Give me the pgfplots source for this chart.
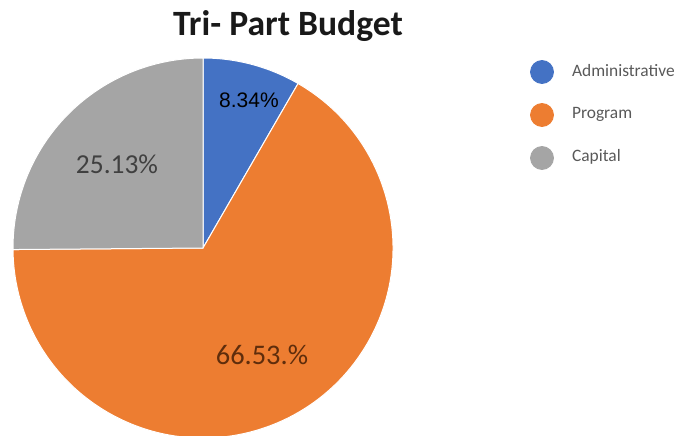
\documentclass[border=0pt]{standalone}
\usepackage{pgfplots}
\pgfplotsset{compat=1.18}
\usepackage{fontspec}
\setmainfont{Carlito}
\newfontfamily\arialfont{Liberation Sans}

\definecolor{cAdm}{HTML}{4472C4}
\definecolor{cPrg}{HTML}{ED7D31}
\definecolor{cCap}{HTML}{A5A5A5}
\definecolor{legtext}{HTML}{595959}

% shares in percent
\def\vAdm{8.34}
\def\vPrg{66.53}
\def\vCap{25.13}

\begin{document}
\begin{tikzpicture}
% angles, clockwise from the top
\pgfmathsetmacro\aA{90}
\pgfmathsetmacro\aB{90-3.6*\vAdm}
\pgfmathsetmacro\aC{\aB-3.6*\vPrg}
\pgfmathsetmacro\aD{\aC-3.6*\vCap}
\begin{axis}[
  scale only axis,
  width=340.5pt, height=217.5pt,
  xmin=-203, xmax=478,
  ymin=-187, ymax=248,
  hide axis,
  clip=true,
]
 % pie wedges (radius 190 units = 95pt)
 \fill[cAdm, draw=white, line width=0.5pt] (axis cs:0,0) -- (axis cs:{190*cos(\aA)},{190*sin(\aA)})
   arc[start angle=\aA, end angle=\aB, radius=95pt] -- cycle;
 \fill[cPrg, draw=white, line width=0.5pt] (axis cs:0,0) -- (axis cs:{190*cos(\aB)},{190*sin(\aB)})
   arc[start angle=\aB, end angle=\aC, radius=95pt] -- cycle;
 \fill[cCap, draw=white, line width=0.5pt] (axis cs:0,0) -- (axis cs:{190*cos(\aC)},{190*sin(\aC)})
   arc[start angle=\aC, end angle=\aD, radius=95pt] -- cycle;

 % data labels
 \node[font=\arialfont\fontsize{10.5}{12}\selectfont, text=black] at (axis cs:46,148) {8.34\%};
 \node[font=\fontsize{13.7}{15}\selectfont, text=black!75] at (axis cs:-86,84) {25.13\%};
 \node[font=\fontsize{14.2}{16}\selectfont, text={rgb,255:red,95;green,45;blue,12}] at (axis cs:59,-107) {66.53.\%};

 % title
 \node[font=\bfseries\fontsize{17.8}{20}\selectfont, text=black!90] at (axis cs:85,222) {Tri- Part Budget};

 % legend
 \addplot[only marks, mark=*, mark size=5.75pt, color=cAdm] coordinates {(339,176)};
 \addplot[only marks, mark=*, mark size=5.75pt, color=cPrg] coordinates {(339,133)};
 \addplot[only marks, mark=*, mark size=5.75pt, color=cCap] coordinates {(339,90)};
 \node[anchor=west, font=\fontsize{8.7}{10}\selectfont, text=legtext] at (axis cs:362,177) {Administrative};
 \node[anchor=west, font=\fontsize{8.7}{10}\selectfont, text=legtext] at (axis cs:362,134) {Program};
 \node[anchor=west, font=\fontsize{8.7}{10}\selectfont, text=legtext] at (axis cs:362,91) {Capital};

 \coordinate (boxsw) at (rel axis cs:0,0);
 \coordinate (boxne) at (rel axis cs:1,1);
\end{axis}
\pgfresetboundingbox
\path[use as bounding box] (boxsw) rectangle (boxne);
\end{tikzpicture}
\end{document}
